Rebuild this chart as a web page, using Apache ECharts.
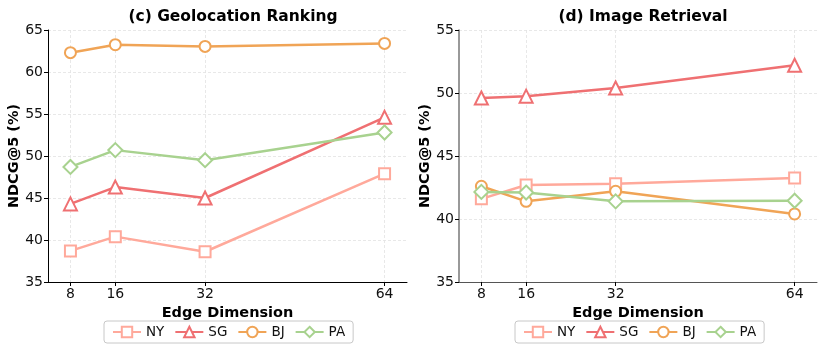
<!DOCTYPE html>
<html>
<head>
<meta charset="utf-8">
<script src="https://cdn.jsdelivr.net/npm/echarts@6/dist/echarts.min.js"></script>
<style>
  html, body { margin: 0; padding: 0; background: #fff; }
  #main { width: 824px; height: 354px; }
</style>
</head>
<body>
<div id="main"></div>
<script>
// edge dimensions on the x axis
var dims = [8, 16, 32, 64];
var names = ['NY', 'SG', 'BJ', 'PA'];

// (c) Geolocation Ranking
var geoNY = [38.7, 40.4, 38.6, 47.9];
var geoSG = [44.3, 46.3, 45.0, 54.6];
var geoBJ = [62.3, 63.25, 63.05, 63.4];
var geoPA = [48.7, 50.7, 49.5, 52.8];

// (d) Image Retrieval
var imgNY = [41.6, 42.7, 42.8, 43.25];
var imgSG = [49.6, 49.75, 50.4, 52.2];
var imgBJ = [42.6, 41.4, 42.2, 40.4];
var imgPA = [42.15, 42.1, 41.4, 41.45];

var colors = ['#FFA99B', '#EF7072', '#F0A456', '#A8D28F'];
var symbols = ['emptyRect', 'emptyTriangle', 'emptyCircle', 'emptyDiamond'];
var sizes = [11, 13, 11, 14];
var font = 'DejaVu Sans';

var chart = echarts.init(document.getElementById('main'));

function pairs(vals) {
    return dims.map(function (d, i) { return [d, vals[i]]; });
}

function makeSeries(idx, sets) {
    return sets.map(function (vals, i) {
        return {
            name: names[i],
            type: 'line',
            xAxisIndex: idx,
            yAxisIndex: idx,
            data: pairs(vals),
            symbol: symbols[i],
            symbolSize: sizes[i],
            color: colors[i],
            lineStyle: { width: 2.5, color: colors[i] },
            itemStyle: { color: colors[i], borderWidth: 2 },
            z: 3
        };
    });
}

function xAxis(idx) {
    return {
        type: 'value',
        gridIndex: idx,
        min: 4,
        max: 68,
        name: 'Edge Dimension',
        nameLocation: 'middle',
        nameGap: 22,
        nameTextStyle: { fontFamily: font, fontWeight: 'bold', fontSize: 14.5, color: '#000' },
        axisLine: { lineStyle: { color: idx ? '#555' : '#000', width: 1 } },
        axisTick: { show: true, customValues: dims, length: 4, lineStyle: { color: '#000' } },
        axisLabel: { customValues: dims, fontFamily: font, fontSize: 14, color: '#111', margin: 5 },
        splitLine: { show: true, lineStyle: { color: '#e2e2e2', type: [3, 2], width: 0.8 } }
    };
}

function yAxis(idx, min, max) {
    return {
        type: 'value',
        gridIndex: idx,
        min: min,
        max: max,
        interval: 5,
        name: 'NDCG@5 (%)',
        nameLocation: 'middle',
        nameGap: 26,
        nameTextStyle: { fontFamily: font, fontWeight: 'bold', fontSize: 14.5, color: '#000' },
        axisLine: { show: true, lineStyle: { color: idx ? '#777' : '#000', width: idx ? 1.5 : 1 } },
        axisTick: { show: true, length: 4, lineStyle: { color: '#000' } },
        axisLabel: { fontFamily: font, fontSize: 14, color: '#111', margin: 5 },
        splitLine: { show: true, lineStyle: { color: '#e2e2e2', type: [3, 2], width: 0.8 } }
    };
}

function legend(left) {
    return {
        data: names,
        left: left,
        top: 321,
        orient: 'horizontal',
        itemWidth: 28,
        itemHeight: 13,
        itemGap: 10,
        padding: [4, 8, 4, 8],
        borderColor: '#c8c8c8',
        borderWidth: 1,
        borderRadius: 3,
        textStyle: { fontFamily: font, fontSize: 13.5, color: '#111' }
    };
}

var option = {
    animation: false,
    backgroundColor: '#fff',
    title: [
        {
            text: '(c) Geolocation Ranking',
            left: 228, top: 4, textAlign: 'center',
            textStyle: { fontFamily: font, fontWeight: 'bold', fontSize: 15.5, color: '#000' }
        },
        {
            text: '(d) Image Retrieval',
            left: 638, top: 4, textAlign: 'center',
            textStyle: { fontFamily: font, fontWeight: 'bold', fontSize: 15.5, color: '#000' }
        }
    ],
    legend: [legend(104), legend(515)],
    grid: [
        { left: 48, top: 30, width: 359, height: 252 },
        { left: 459, top: 30, width: 358, height: 252 }
    ],
    xAxis: [xAxis(0), xAxis(1)],
    yAxis: [yAxis(0, 35, 65), yAxis(1, 35, 55)],
    series: makeSeries(0, [geoNY, geoSG, geoBJ, geoPA])
        .concat(makeSeries(1, [imgNY, imgSG, imgBJ, imgPA]))
};

chart.setOption(option);
</script>
</body>
</html>
